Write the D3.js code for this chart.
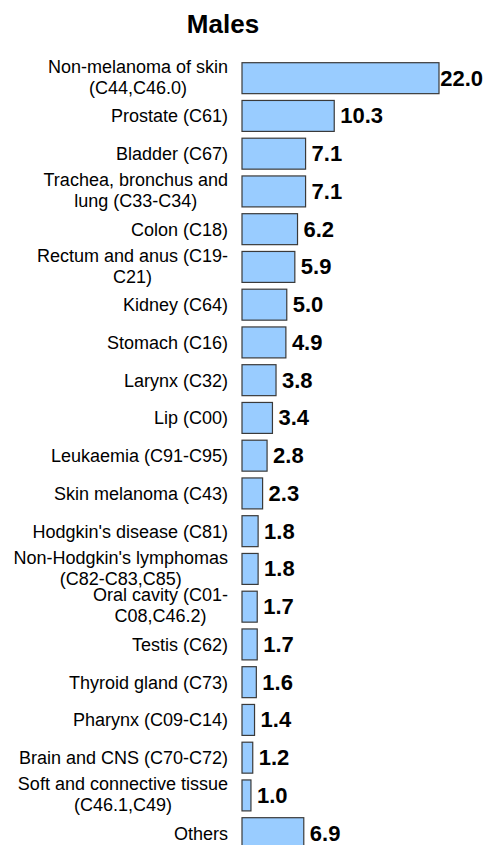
<!DOCTYPE html>
<html>
<head>
<meta charset="utf-8">
<script src="https://cdn.jsdelivr.net/npm/d3@7"></script>
<style>
  body { margin: 0; background: #fff; }
  text { font-family: "Liberation Sans", Arial, sans-serif; }
</style>
</head>
<body>
<div id="chart"></div>
<script>
const title = "Males";
const categories = [
    "Non-melanoma of skin\n(C44,C46.0)",
    "Prostate (C61)",
    "Bladder (C67)",
    "Trachea, bronchus and\nlung (C33-C34)",
    "Colon (C18)",
    "Rectum and anus (C19-\nC21)",
    "Kidney (C64)",
    "Stomach (C16)",
    "Larynx (C32)",
    "Lip (C00)",
    "Leukaemia (C91-C95)",
    "Skin melanoma (C43)",
    "Hodgkin's disease (C81)",
    "Non-Hodgkin's lymphomas\n(C82-C83,C85)",
    "Oral cavity (C01-\nC08,C46.2)",
    "Testis (C62)",
    "Thyroid gland (C73)",
    "Pharynx (C09-C14)",
    "Brain and CNS (C70-C72)",
    "Soft and connective tissue\n(C46.1,C49)",
    "Others"
];
const values = [22.0, 10.3, 7.1, 7.1, 6.2, 5.9, 5.0, 4.9, 3.8, 3.4, 2.8, 2.3, 1.8, 1.8, 1.7, 1.7, 1.6, 1.4, 1.2, 1.0, 6.9];

const width = 486, height = 845;
const data = categories.map((c, i) => ({ name: c, value: values[i] }));

const svg = d3.select("#chart").append("svg")
    .attr("width", width)
    .attr("height", height);

svg.append("text")
    .attr("x", 223)
    .attr("y", 33)
    .attr("text-anchor", "middle")
    .style("font-size", "26px")
    .style("font-weight", "bold")
    .text(title);

const step = 37.75;
const top0 = 59.3;
const y = d3.scaleBand()
    .domain(data.map(d => d.name))
    .range([top0, top0 + step * data.length])
    .paddingInner(0.18)
    .paddingOuter(0.09);

const x = d3.scaleLinear()
    .domain([0, 22])
    .range([242, 439]);

svg.selectAll(".bar")
    .data(data)
    .enter().append("rect")
    .attr("class", "bar")
    .attr("x", x(0))
    .attr("y", d => y(d.name))
    .attr("width", d => x(d.value) - x(0))
    .attr("height", y.bandwidth())
    .style("fill", "#99ccff")
    .style("stroke", "#3a3a3a")
    .style("stroke-width", 1.2);

// category labels: block right aligned, lines centred inside the block
const lineH = 21;
const labelRight = 228;
svg.selectAll(".label")
    .data(data)
    .enter().append("text")
    .attr("class", "label")
    .style("font-size", "18px")
    .style("fill", "#000")
    .each(function(d) {
        const g = d3.select(this);
        const lines = d.name.split("\n");
        const cy = y(d.name) + y.bandwidth() / 2;
        const first = lines.length > 1 ? cy - 5.3 : cy + 6.5;
        const spans = lines.map((ln, i) => g.append("tspan")
            .attr("y", first + i * lineH)
            .text(ln));
        const maxW = d3.max(spans, s => s.node().getComputedTextLength());
        g.attr("text-anchor", "middle");
        spans.forEach(s => s.attr("x", labelRight - maxW / 2));
    });

// value labels
svg.selectAll(".value")
    .data(data)
    .enter().append("text")
    .attr("class", "value")
    .attr("y", d => y(d.name) + y.bandwidth() / 2 + 7.5)
    .style("font-size", "22px")
    .style("font-weight", "bold")
    .text(d => d.value.toFixed(1))
    .attr("x", function(d) {
        const w = this.getComputedTextLength();
        return Math.min(x(d.value) + 6, width - 3 - w);
    });
</script>
</body>
</html>
